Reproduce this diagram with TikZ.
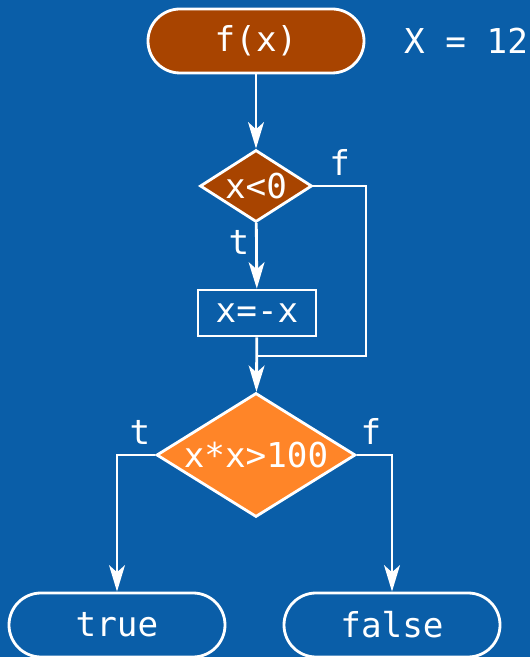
\documentclass[tikz,border=0pt]{standalone}
\usepackage{fontspec}
\setmonofont{DejaVu Sans Mono}
\usetikzlibrary{shapes.geometric,arrows.meta}
\definecolor{bgblue}{RGB}{10,94,168}
\definecolor{brick}{RGB}{168,68,0}
\definecolor{tangerine}{RGB}{255,133,40}
\tikzset{
  every node/.style={text=white,font=\ttfamily\fontsize{19.5}{22}\selectfont},
  pill/.style={draw=white,line width=1.6pt,rounded corners=0.64cm,minimum width=4.32cm,minimum height=1.28cm},
  test/.style={draw=white,line width=1.6pt,diamond,inner sep=0pt},
  flow/.style={white,line width=1.6pt,-{Stealth[length=15pt,width=9pt,inset=4pt]}}
}
\begin{document}
\begin{tikzpicture}
\fill[bgblue] (0,0) rectangle (10.6,13.14);
\useasboundingbox (0,0) rectangle (10.6,13.14);
\node[pill,fill=brick] (f) at (5.12,12.32) {f(x)};
\node (val) at (9.32,12.32) {X = 12};
\node[test,fill=brick,aspect=1.556,minimum width=2.24cm,minimum height=1.44cm] (neg) at (5.12,9.42) {x<0};
\node[draw=white,line width=1.6pt,minimum width=2.36cm,minimum height=0.92cm] (flip) at (5.14,6.88) {x=-x};
\coordinate (join) at (5.12,6.02);
\node[test,fill=tangerine,aspect=1.6,minimum width=3.98cm,minimum height=2.48cm] (big) at (5.12,4.04) {x*x>100};
\node[pill] (yes) at (2.34,0.64) {true};
\node[pill] (no) at (7.84,0.64) {false};
\draw[flow] (f) -- (neg);
\draw[flow] (neg) -- node[pos=0.3,left] {t} (flip);
\draw[white,line width=1.6pt] (neg.east) -- node[pos=0.5,above,yshift=2pt] {f} (7.32,9.42) |- (join);
\draw[flow] (flip) -- (big);
\draw[flow] (big.west) -| node[pos=0.2,above,yshift=2pt] {t} (yes);
\draw[flow] (big.east) -| node[pos=0.2,above,yshift=2pt] {f} (no);
\end{tikzpicture}
\end{document}
